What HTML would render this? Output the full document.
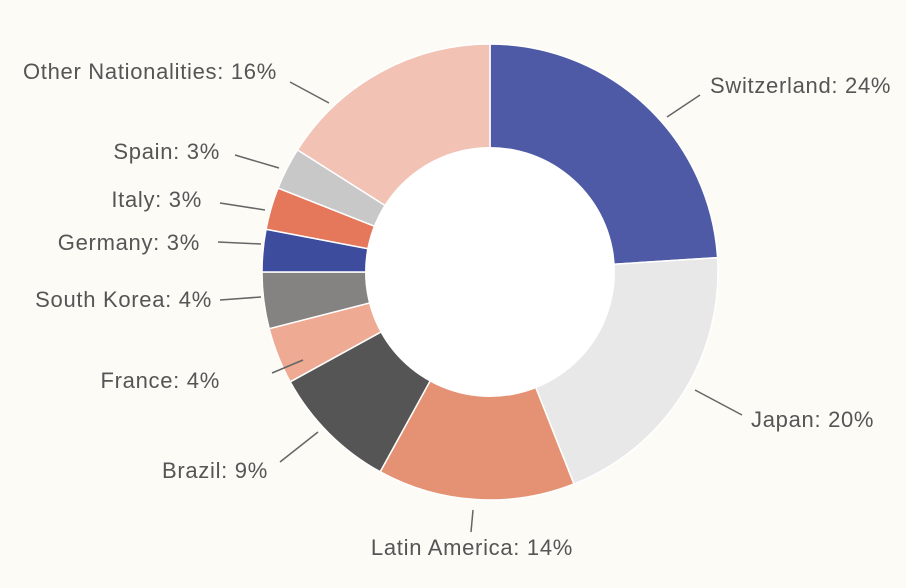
<!DOCTYPE html>
<html><head><style>
html,body{margin:0;padding:0;background:#fcfbf6;}
svg{display:block}
text{font-family:"Liberation Sans",sans-serif;font-size:22px;fill:#555;letter-spacing:0.7px;}
</style></head><body>
<svg id="s" width="906" height="588" viewBox="0 0 906 588">
<rect width="906" height="588" fill="#fcfbf6"/>
<g id="g"></g>
<circle cx="490" cy="272" r="125" fill="#fff"/>
<g stroke="#666" stroke-width="1.5">
<line x1="667" y1="117" x2="700" y2="95"/>
<line x1="695" y1="390" x2="742" y2="415"/>
<line x1="473" y1="510" x2="471" y2="532"/>
<line x1="318" y1="432" x2="280" y2="462"/>
<line x1="303" y1="360" x2="272" y2="373"/>
<line x1="261" y1="297" x2="220" y2="300"/>
<line x1="261" y1="244" x2="218" y2="242"/>
<line x1="265" y1="210" x2="220" y2="203"/>
<line x1="279" y1="168" x2="235" y2="155"/>
<line x1="329" y1="103" x2="290" y2="82"/>
</g>
<text x="710" y="93">Switzerland: 24%</text>
<text x="751" y="427">Japan: 20%</text>
<text x="472" y="555" text-anchor="middle">Latin America: 14%</text>
<text x="268" y="478" text-anchor="end">Brazil: 9%</text>
<text x="220" y="388" text-anchor="end">France: 4%</text>
<text x="212" y="307" text-anchor="end">South Korea: 4%</text>
<text x="200" y="250" text-anchor="end">Germany: 3%</text>
<text x="202" y="207" text-anchor="end">Italy: 3%</text>
<text x="220" y="159" text-anchor="end">Spain: 3%</text>
<text x="277" y="79" text-anchor="end">Other Nationalities: 16%</text>
</svg>
<script>
var d=[[24,"#4e5aa5"],[20,"#e8e8e8"],[14,"#e59173"],[9,"#555555"],[4,"#eeaa92"],[4,"#858282"],[3,"#3e4c9e"],[3,"#e5775a"],[3,"#c8c8c8"],[16,"#f2c2b4"]];
var cx=490,cy=272,R=228,a=0,h="";
d.forEach(function(e){var b=a+e[0]*3.6;var r1=a*Math.PI/180,r2=b*Math.PI/180;
var x1=cx+R*Math.sin(r1),y1=cy-R*Math.cos(r1),x2=cx+R*Math.sin(r2),y2=cy-R*Math.cos(r2);
h+='<path d="M'+cx+','+cy+'L'+x1+','+y1+'A'+R+','+R+' 0 '+(b-a>180?1:0)+' 1 '+x2+','+y2+'Z" fill="'+e[1]+'" stroke="#fff" stroke-width="1.5"/>';a=b;});
document.getElementById("g").innerHTML=h;
</script>
</body></html>
